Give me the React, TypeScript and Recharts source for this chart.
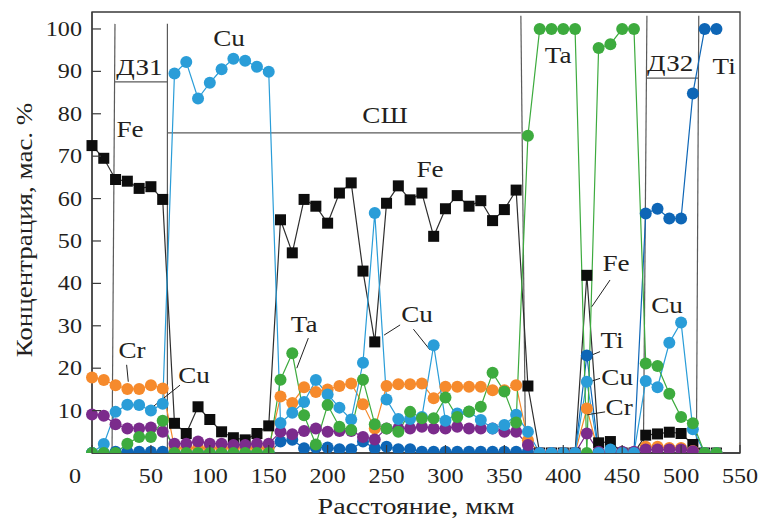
import React from 'react';
import { LineChart, Line, XAxis, YAxis, ReferenceLine, ReferenceDot, ReferenceArea } from 'recharts';

// distance, µm
const distance = [0, 10, 20, 30, 40, 50, 60, 70, 80, 90, 100, 110, 120, 130, 140, 150, 160, 170, 180, 190, 200, 210, 220, 230, 240, 250, 260, 270, 280, 290, 300, 310, 320, 330, 340, 350, 360, 370, 380, 390, 400, 410, 420, 430, 440, 450, 460, 470, 480, 490, 500, 510, 520, 530];

const fe = [72.5, 69.5, 64.5, 64.1, 62.4, 62.8, 59.8,
  7.0, 4.6, 10.9, 7.9, 5.0, 3.6, 3.1, 4.6, 6.4,
  55.0, 47.2, 59.8, 58.2, 54.2, 61.3, 63.7, 42.9, 26.2, 58.9, 63.0, 59.7, 61.3, 51.1, 57.6, 60.7, 58.2, 59.5, 54.8, 57.4, 62.0, 15.8,
  0, 0, 0, 0, 41.9, 2.4, 2.7, 0, 0, 4.2, 4.5, 4.9, 4.6, 2.0, 0, 0];

const cu = [0, 2.1, 9.7, 11.4, 11.3, 10.0, 11.6,
  89.5, 92.2, 83.6, 87.3, 90.5, 93.0, 92.5, 91.1, 89.9,
  7.1, 9.5, 12.0, 17.2, 13.8, 10.7, 7.9, 21.3, 56.6, 12.6, 8.0, 8.0, 8.5, 25.4, 7.6, 9.3, 9.7, 7.8, 5.8, 6.6, 9.0, 5.0,
  0, 0, 0, 0, 16.8, 0, 0.8, 0, 0, 17.0, 15.5, 26.0, 30.8, 5.6, 0, 0];

const cr = [17.8, 17.2, 16.0, 15.1, 15.1, 16.0, 15.2,
  1.2, 1.2, 1.2, 1.2, 1.2, 1.2, 1.2, 1.2, 1.2,
  13.3, 11.8, 15.5, 14.4, 15.0, 15.8, 16.4, 11.5, 5.8, 15.8, 16.2, 16.2, 16.4, 12.9, 15.6, 15.6, 15.6, 15.6, 14.8, 14.8, 16.0, 3.0,
  0, 0, 0, 0, 10.5, 0, 0, 0, 0, 1.5, 1.5, 1.2, 1.2, 0.5, 0, 0];

const ni = [9.1, 8.8, 6.8, 5.8, 5.8, 6.0, 5.0,
  2.2, 2.2, 2.7, 2.2, 2.2, 1.9, 1.9, 2.2, 2.2,
  5.0, 4.4, 5.2, 5.8, 5.0, 5.2, 5.2, 3.8, 3.2, 5.8, 5.8, 5.8, 6.2, 5.8, 5.8, 6.2, 5.8, 5.8, 5.8, 5.0, 5.0, 1.9,
  0, 0, 0, 0, 4.6, 0.3, 0.3, 0.3, 0.3, 0.8, 0.8, 0.8, 0.8, 0.4, 0, 0];

const ta = [0, 0, 0, 2.2, 3.8, 3.8, 7.6,
  0, 0, 0, 0, 0, 0, 0, 0, 0,
  17.3, 23.5, 8.9, 2.0, 11.3, 6.2, 5.4, 17.3, 6.8, 5.8, 5.0, 9.7, 8.2, 8.2, 13.1, 8.5, 9.8, 10.9, 18.9, 14.5, 7.2, 74.8,
  100, 100, 100, 100, 0, 95.5, 96.4, 100, 100, 21.1, 20.5, 14.0, 8.5, 7.0, 0, 0];

const ti = [0, 0, 0.3, 0.3, 0.3, 0.3, 0.3,
  0, 0, 0, 0, 0, 0, 0, 0, 0,
  2.7, 3.1, 1.1, 1.3, 1.3, 0.9, 0.9, 2.7, 1.1, 1.5, 0.9, 0.9, 0.3, 0.3, 0.3, 0.3, 0.3, 0.3, 0.3, 0.3, 0.3, 0.3,
  0, 0, 0, 0, 23.0, 0, 0, 0, 0, 56.5, 57.6, 55.3, 55.3, 84.8, 100, 100];

const xTicks = [0, 50, 100, 150, 200, 250, 300, 350, 400, 450, 500, 550];
const yTicks = [10, 20, 30, 40, 50, 60, 70, 80, 90, 100];

// zone boundaries (slightly slanted hand-drawn lines): [xTop, yTop, xBottom]
const zoneVerticals = [
  [19.5, 101.2, 17],
  [64, 101.2, 64],
  [364, 103.1, 368],
  [471, 103.1, 468],
  [515, 103.1, 513],
];
// zone brackets: [x1, x2, y]
const zoneBrackets = [
  [19.5, 64, 87.5],
  [64, 364, 75.5],
  [471, 515, 88.4],
];

const notes = [
  { t: 'ДЗ1', x: 40.3, y: 89.2 },
  { t: 'Fe', x: 32.3, y: 74.5 },
  { t: 'Cu', x: 116.3, y: 96.0 },
  { t: 'СШ', x: 248.7, y: 77.8 },
  { t: 'Ta', x: 395.6, y: 92.0 },
  { t: 'ДЗ2', x: 490.7, y: 90.1 },
  { t: 'Ti', x: 536.5, y: 89.4 },
  { t: 'Fe', x: 286.9, y: 65.1 },
  { t: 'Cr', x: 34, y: 22.4 },
  { t: 'Cu', x: 86.6, y: 16.5 },
  { t: 'Ta', x: 180, y: 28.5 },
  { t: 'Cu', x: 275.9, y: 30.9 },
  { t: 'Fe', x: 444.8, y: 42.9 },
  { t: 'Ti', x: 441.4, y: 24.8 },
  { t: 'Cu', x: 445.7, y: 16.0 },
  { t: 'Cr', x: 447.4, y: 9.0 },
  { t: 'Cu', x: 488.1, y: 33.0 },
];

// leader lines: [x1, y1, x2, y2]
const leaders = [
  [29.4, 20.8, 30.8, 16.8],
  [74.7, 16.0, 52.6, 11.1],
  [183.6, 27.1, 173.8, 20.0],
  [261.5, 30.2, 247.9, 27.8],
  [272.8, 29.2, 286.9, 24.3],
  [439.7, 40.8, 424.2, 34.5],
  [431.2, 23.9, 420.5, 22.7],
  [431.2, 17.6, 420.5, 16.6],
  [435.5, 9.7, 419.9, 9.0],
];

const FONT = '"Liberation Serif", "Times New Roman", serif';
const TEXT = '#231f20';
const AXIS = '#3a3a3a';
const ZONE = '#5a5a5a';

const C_FE = '#0d0d0d';
const C_CU = '#2a9dd8';
const C_CR = '#f68a2c';
const C_NI = '#7b2b8c';
const C_TA = '#3dab3e';
const C_TI = '#0e66b6';

const data = distance.map((d, i) => ({
  d, Fe: fe[i], Cu: cu[i], Cr: cr[i], Ni: ni[i], Ta: ta[i], Ti: ti[i],
}));

function SText(props: any) {
  const { x, y, children, size = 23, sx = 1.18, anchor = 'middle', rotate = 0 } = props;
  const tr = `translate(${x},${y})` + (rotate ? ` rotate(${rotate})` : '') + ` scale(${sx},1)`;
  return (
    <text transform={tr} textAnchor={anchor} fontFamily={FONT} fontSize={size} fill={TEXT}>
      {children}
    </text>
  );
}

const YTick = (p: any) => {
  const { x, y, payload } = p;
  return (
    <g>
      <line x1={x} x2={x + 9} y1={y} y2={y} stroke={AXIS} strokeWidth={1.2} />
      <SText x={x - 10} y={y + 7} size={21} sx={1.15} anchor="end">{payload.value}</SText>
    </g>
  );
};

const XTick = (p: any) => {
  const { x, y, payload } = p;
  const dx = payload.value === 0 ? -17 : 0;
  return (
    <g>
      <line x1={x} x2={x} y1={y} y2={y - 8} stroke={AXIS} strokeWidth={1.2} />
      <SText x={x + dx} y={y + 30} size={21} sx={1.15}>{payload.value}</SText>
    </g>
  );
};

const circleDot = (color: string) => (p: any) => {
  if (p.cx == null || p.cy == null) return <g key={`e${p.index}`} />;
  return <circle key={`c${p.index}`} cx={p.cx} cy={p.cy} r={6} fill={color} />;
};

const squareDot = (p: any) => {
  if (p.cx == null || p.cy == null) return <g key={`e${p.index}`} />;
  return <rect key={`s${p.index}`} x={p.cx - 5.5} y={p.cy - 5.5} width={11} height={11} fill={C_FE} />;
};

const yTitle = () => (
  <SText x={32} y={230} size={22.5} sx={1.2} rotate={-90}>Концентрация, мас. %</SText>
);
const xTitle = () => (
  <SText x={416} y={514} size={23} sx={1.22}>Расстояние, мкм</SText>
);

export default function App() {
  return (
    <div style={{ position: 'absolute', left: 0, top: 0, width: 761, height: 521, background: '#fff' }}>
      <LineChart width={761} height={521} data={data} margin={{ top: 12, right: 21, bottom: 28, left: 32 }}>
        <XAxis
          dataKey="d" type="number" domain={[0, 550]} ticks={xTicks} interval={0}
          tickSize={0} tickMargin={0} tickLine={false} height={40}
          axisLine={{ stroke: AXIS, strokeWidth: 1.3 }} tick={XTick}
          label={{ content: xTitle }}
        />
        <YAxis
          type="number" domain={[0, 104]} ticks={yTicks} interval={0} allowDataOverflow
          tickSize={0} tickMargin={0} tickLine={false} width={60}
          axisLine={{ stroke: AXIS, strokeWidth: 1.3 }} tick={YTick}
          label={{ content: yTitle }}
        />
        <ReferenceArea x1={0} x2={550} y1={0} y2={104} fill="none" fillOpacity={0} stroke={AXIS} strokeWidth={1.3} ifOverflow="visible" />
        {zoneVerticals.map((z, i) => (
          <ReferenceLine key={`zv${i}`} segment={[{ x: z[0], y: z[1] }, { x: z[2], y: 0 }]} stroke={ZONE} strokeWidth={1.2} ifOverflow="visible" />
        ))}
        {zoneBrackets.map((z, i) => (
          <ReferenceLine key={`zb${i}`} segment={[{ x: z[0], y: z[2] }, { x: z[1], y: z[2] }]} stroke={ZONE} strokeWidth={1.2} ifOverflow="visible" />
        ))}
        <Line dataKey="Fe" stroke="#2e2e2e" strokeWidth={1.2} dot={squareDot} activeDot={false} isAnimationActive={false} />
        <Line dataKey="Ti" stroke={C_TI} strokeWidth={1.2} dot={circleDot(C_TI)} activeDot={false} isAnimationActive={false} />
        <Line dataKey="Cr" stroke={C_CR} strokeWidth={1.2} dot={circleDot(C_CR)} activeDot={false} isAnimationActive={false} />
        <Line dataKey="Ni" stroke={C_NI} strokeWidth={1.2} dot={circleDot(C_NI)} activeDot={false} isAnimationActive={false} />
        <Line dataKey="Cu" stroke={C_CU} strokeWidth={1.2} dot={circleDot(C_CU)} activeDot={false} isAnimationActive={false} />
        <Line dataKey="Ta" stroke={C_TA} strokeWidth={1.2} dot={circleDot(C_TA)} activeDot={false} isAnimationActive={false} />
        {leaders.map((l, i) => (
          <ReferenceLine key={`ld${i}`} segment={[{ x: l[0], y: l[1] }, { x: l[2], y: l[3] }]} stroke="#222" strokeWidth={1} ifOverflow="visible" />
        ))}
        {notes.map((n, i) => (
          <ReferenceDot
            key={`nt${i}`} x={n.x} y={n.y} r={0} ifOverflow="visible"
            shape={(p: any) => <SText x={p.cx} y={p.cy}>{n.t}</SText>}
          />
        ))}
      </LineChart>
    </div>
  );
}
